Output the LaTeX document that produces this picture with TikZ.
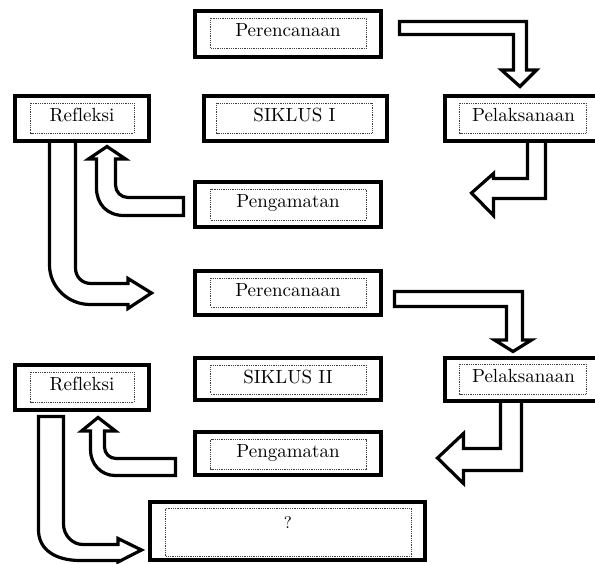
\documentclass[tikz,border=0pt]{standalone}
\usepackage{fontspec}
\setmainfont{lmroman10-regular.otf}[Ligatures=CommonOff]
\begin{document}
\begin{tikzpicture}[x=1pt,y=-1pt,
  outerbox/.style={draw=black,line width=4pt,fill=white},
  innerbox/.style={draw=black!75,line width=0.8pt,dash pattern=on 0.9pt off 0.9pt},
  blockarrow/.style={draw=black,line width=3.2pt,fill=white,line join=miter},
  lbl/.style={inner sep=0pt,anchor=base,font=\fontsize{19}{22}\selectfont}]
\useasboundingbox (0,0) rectangle (595,564);

% ---------- block arrows (drawn first) ----------
% Perencanaan I -> Pelaksanaan I
\draw[blockarrow] (399.5,21.5) -- (526.5,21.5) -- (526.5,70) -- (536.5,70) -- (520,86.5)
  -- (501.5,70) -- (513.5,70) -- (513.5,34.5) -- (399.5,34.5) -- cycle;
% Pelaksanaan I -> left
\draw[blockarrow] (527.5,141) -- (527.5,178.5) -- (493.5,178.5) -- (493.5,173.5) -- (471.5,193)
  -- (493.5,215.5) -- (493.5,198.5) -- (545.5,198.5) -- (545.5,141) -- cycle;
% Pengamatan I -> Refleksi I
\draw[blockarrow] (183.5,197.5) -- (128,197.5) .. controls (121,197.5) and (115.5,192) .. (115.5,185)
  -- (115.5,159) -- (125.5,159) -- (107,146.5) -- (88.5,159) -- (96.5,159) -- (96.5,188)
  .. controls (96.5,204) and (107,215.5) .. (124,215.5) -- (183.5,215.5) -- cycle;
% Refleksi I -> Perencanaan II
\draw[blockarrow] (75.5,141) -- (75.5,268) .. controls (75.5,277) and (82,283.5) .. (91,283.5)
  -- (128,283.5) -- (128,278.5) -- (151.5,293) -- (128,308.5) -- (128,304.5) -- (90,304.5)
  .. controls (68,304.5) and (49.5,287) .. (49.5,265) -- (49.5,141) -- cycle;
% Perencanaan II -> Pelaksanaan II
\draw[blockarrow] (394.5,291.5) -- (522.5,291.5) -- (522.5,340) -- (531.5,340) -- (513,351.5)
  -- (494.5,340) -- (506.5,340) -- (506.5,306.5) -- (394.5,306.5) -- cycle;
% Pelaksanaan II -> left
\draw[blockarrow] (500.5,401) -- (500.5,448.5) -- (463.5,448.5) -- (463.5,433.5) -- (437.5,458)
  -- (463.5,483.5) -- (463.5,470.5) -- (521.5,470.5) -- (521.5,401) -- cycle;
% Pengamatan II -> Refleksi II
\draw[blockarrow] (175.5,458.5) -- (116,458.5) .. controls (109.5,458.5) and (104.5,453.5) .. (104.5,447)
  -- (104.5,431) -- (115.5,431) -- (98,417.5) -- (81.5,431) -- (90.5,431) -- (90.5,450)
  .. controls (90.5,464) and (101,475.5) .. (115,475.5) -- (175.5,475.5) -- cycle;
% Refleksi II -> ?
\draw[blockarrow] (38.5,416.5) -- (63.5,416.5) -- (63.5,524) .. controls (63.5,535) and (72,544.5) .. (83,544.5)
  -- (118,544.5) -- (118,538.5) -- (141.5,550) -- (118,562) -- (118,560.5) -- (80,560.5)
  .. controls (56,560.5) and (38.5,550) .. (38.5,530) -- cycle;

% ---------- boxes ----------
% Perencanaan I
\draw[outerbox] (195,11) rectangle (381,57);
\draw[innerbox] (210.5,18.5) rectangle (366.5,48.5);
\node[lbl] (per1) at (288,37) {Perencanaan};
% SIKLUS I
\draw[outerbox] (204,96) rectangle (387,141);
\draw[innerbox] (216.5,103.5) rectangle (372,133);
\node[lbl] (sik1) at (294.5,121.5) {SIKLUS I};
% Pelaksanaan I
\draw[outerbox] (445,96) rectangle (602,141);
\draw[innerbox] (459.5,103.5) rectangle (586.5,133);
\node[lbl] (pel1) at (523.5,121.5) {Pelaksanaan};
% Refleksi I
\draw[outerbox] (15,96) rectangle (149,141);
\draw[innerbox] (30.5,103.5) rectangle (134,133);
\node[lbl] (ref1) at (82,121.5) {Refleksi};
% Pengamatan I
\draw[outerbox] (195,182) rectangle (381,227);
\draw[innerbox] (210.5,189.5) rectangle (366.5,220);
\node[lbl] (pen1) at (288,207.5) {Pengamatan};
% Perencanaan II
\draw[outerbox] (195,271) rectangle (381,315);
\draw[innerbox] (210.5,278.5) rectangle (366.5,307);
\node[lbl] (per2) at (288,296.5) {Perencanaan};
% SIKLUS II
\draw[outerbox] (195,358) rectangle (381,400);
\draw[innerbox] (210.5,365.5) rectangle (366.5,394);
\node[lbl] (sik2) at (288,383) {SIKLUS II};
% Pelaksanaan II
\draw[outerbox] (445,358) rectangle (602,401);
\draw[innerbox] (459.5,364.5) rectangle (586.5,394);
\node[lbl] (pel2) at (523.5,382.5) {Pelaksanaan};
% Refleksi II
\draw[outerbox] (15,365) rectangle (149,410);
\draw[innerbox] (30.5,372.5) rectangle (134,402);
\node[lbl] (ref2) at (82,390.5) {Refleksi};
% Pengamatan II
\draw[outerbox] (195,432) rectangle (381,475);
\draw[innerbox] (210.5,439.5) rectangle (366.5,469);
\node[lbl] (pen2) at (288,457.5) {Pengamatan};
% ?
\draw[outerbox] (150,502) rectangle (425,560);
\draw[innerbox] (165.5,508.5) rectangle (411.5,556.5);
\node[lbl,font=\fontsize{17}{20}\selectfont] (q) at (288,528) {?};
\end{tikzpicture}
\end{document}
